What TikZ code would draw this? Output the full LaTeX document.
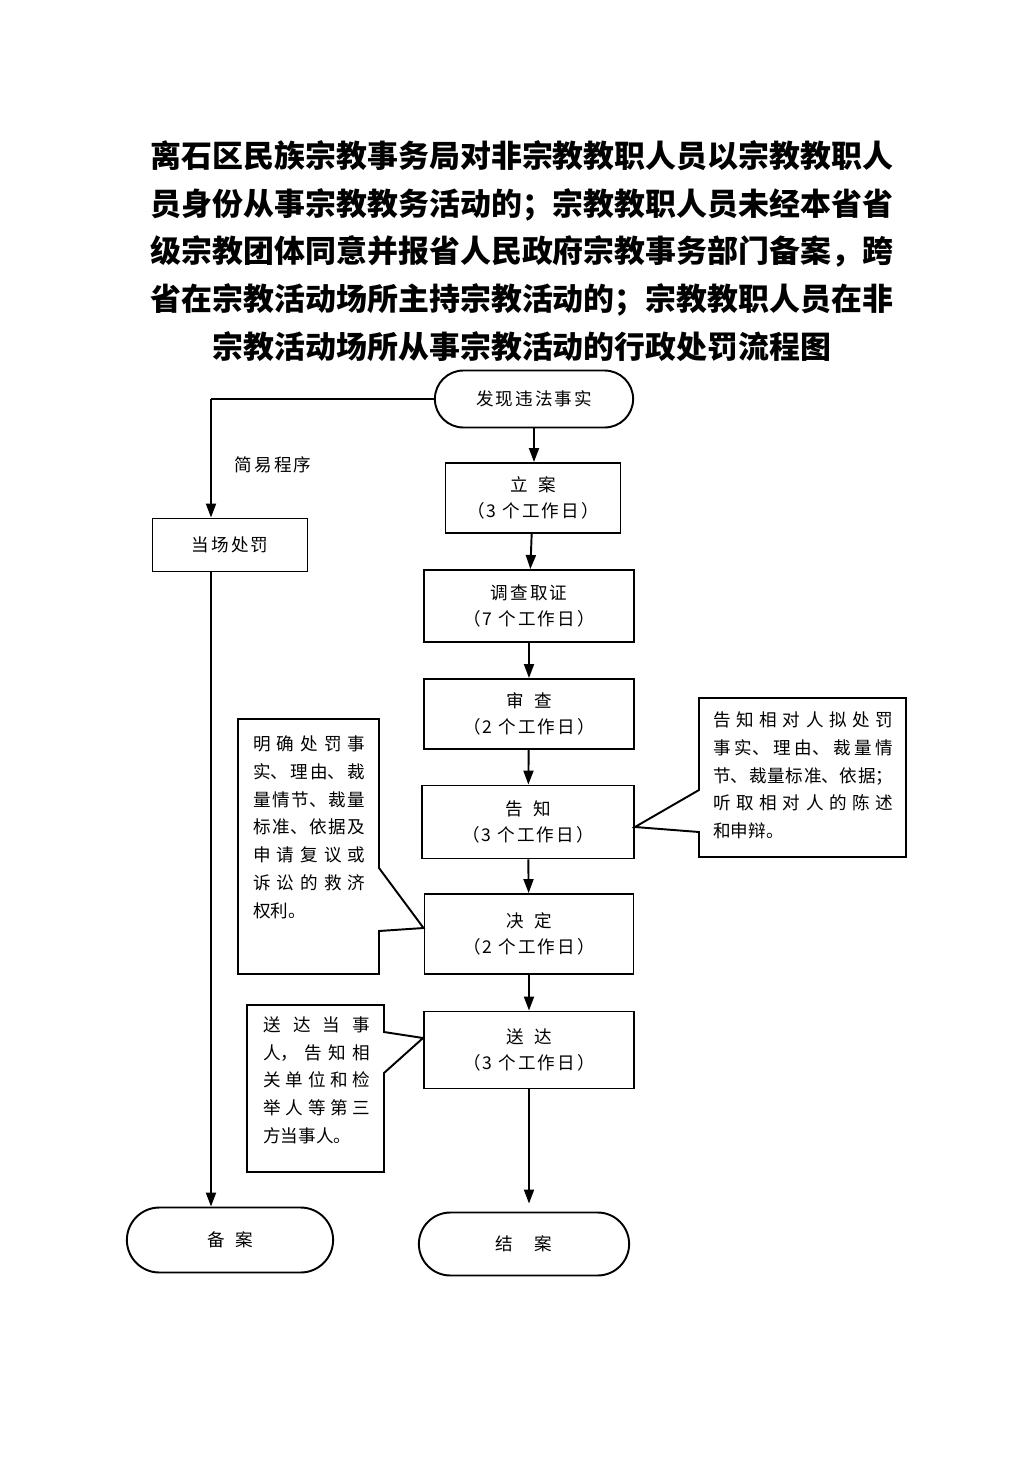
\documentclass[tikz,border=0pt]{standalone}
\usepackage{fontspec}
\setmainfont{Noto Sans CJK SC}
\newfontfamily\bodyfont[LetterSpace=12]{Noto Sans CJK SC}
\usepackage{tikz}
\usetikzlibrary{arrows.meta,calc,positioning,shapes.misc}
\XeTeXlinebreaklocale "zh"
\XeTeXlinebreakskip = 0pt plus 1pt
\newcommand{\spread}[1]{{\XeTeXlinebreakskip=0pt plus 1fil\rightskip=0pt\parfillskip=0pt\parskip=0pt\noindent#1\par}}
\newcommand{\kgap}{\hspace{0.6em}}

\begin{document}
\begin{tikzpicture}[x=0.02cm,y=-0.02cm,
  box/.style={draw,line width=1.1pt,minimum width=4.2cm,minimum height=1.44cm,align=center,font=\bodyfont\fontsize{10}{14.7}\selectfont},
  term/.style={draw,line width=1.1pt,rounded rectangle,minimum height=1.2cm,font=\bodyfont\fontsize{10}{12}\selectfont},
  note/.style={anchor=north west,inner sep=0pt,align=left,font=\rmfamily\fontsize{10}{15.9}\selectfont},
  arr/.style={line width=1.1pt,-{Triangle[length=0.28cm,width=0.2cm]}},
  edge/.style={line width=1.1pt}]
\useasboundingbox (0,0) rectangle (1033,1461);

% title
\node[align=center,font=\bfseries\fontsize{17.6}{27.2}\selectfont] (title) at (522,251)
  {离石区民族宗教事务局对非宗教教职人员以宗教教职人\\
   员身份从事宗教教务活动的；宗教教职人员未经本省省\\
   级宗教团体同意并报省人民政府宗教事务部门备案，跨\\
   省在宗教活动场所主持宗教活动的；宗教教职人员在非\\
   宗教活动场所从事宗教活动的行政处罚流程图};

% main column
\node[term,minimum width=4.2cm,minimum height=1.14cm] (faxian) at (534,399) {发现违法事实};
\node[box,minimum width=3.5cm,minimum height=1.4cm] (lian) at (533,498) {立\kgap 案\\（3 个工作日）};
\node[box] (diaocha) at (529,606) {调查取证\\（7 个工作日）};
\node[box,minimum height=1.4cm] (shencha) at (529,714) {审\kgap 查\\（2 个工作日）};
\node[box,minimum width=4.24cm,minimum height=1.46cm] (gaozhi) at (528,822) {告\kgap 知\\（3 个工作日）};
\node[box,minimum width=4.18cm,minimum height=1.6cm] (jueding) at (529,934) {决\kgap 定\\（2 个工作日）};
\node[box,minimum height=1.54cm] (songda) at (529,1050) {送\kgap 达\\（3 个工作日）};
\node[term,minimum width=4.44cm,minimum height=1.26cm] (jiean) at (524,1244) {结\kgap\kgap 案};

% simple procedure
\node[box,minimum width=3.1cm,minimum height=1.06cm] (dangchang) at (230,545) {当场处罚};
\node[term,minimum width=4.36cm,minimum height=1.3cm] (beian) at (230,1240) {备\kgap 案};
\node[font=\bodyfont\fontsize{10}{12}\selectfont] (jianyi) at (273,465) {简易程序};
\coordinate (fork) at (211,399);

\draw[edge] (faxian.west) -- (fork);
\draw[arr] (fork) -- (fork |- dangchang.north);
\draw[arr] (fork |- dangchang.south) -- (fork |- beian.north);

\draw[arr] (faxian.south) -- (faxian.south |- lian.north);
\foreach \a/\b in {lian/diaocha,diaocha/shencha,shencha/gaozhi,gaozhi/jueding,jueding/songda}
  \draw[arr] (\a) -- (\b);
\draw[arr,shorten >=0.16cm] (songda.south) -- (songda.south |- jiean.north);

% callouts
\draw[edge] (238,719) -- (379,719) -- (379,868) -- ($(jueding.west)+(0,-6)$) -- (379,931) -- (379,974) -- (238,974) -- cycle;
\node[note,text width=2.24cm] (note1) at (253,735)
  {\spread{明确处罚事}\spread{实、理由、裁}\spread{量情节、裁量}\spread{标准、依据及}\spread{申请复议或}\spread{诉讼的救济}权利。};

\draw[edge] (699,698) -- (906,698) -- (906,857) -- (699,857) -- (699,832) -- ($(gaozhi.east)+(0,5)$) -- (699,790) -- cycle;
\node[note,text width=3.6cm] (note2) at (713,711)
  {\spread{告知相对人拟处罚}\spread{事实、理由、裁量情}\spread{节、裁量标准、依据；}\spread{听取相对人的陈述}和申辩。};

\draw[edge] (247,1005) -- (384,1005) -- (384,1032) -- ($(songda.west)+(0,-12)$) -- (384,1073) -- (384,1172) -- (247,1172) -- cycle;
\node[note,text width=2.14cm] (note3) at (263,1016)
  {\spread{送达当事}\spread{人，告知相}\spread{关单位和检}\spread{举人等第三}方当事人。};
\end{tikzpicture}
\end{document}
